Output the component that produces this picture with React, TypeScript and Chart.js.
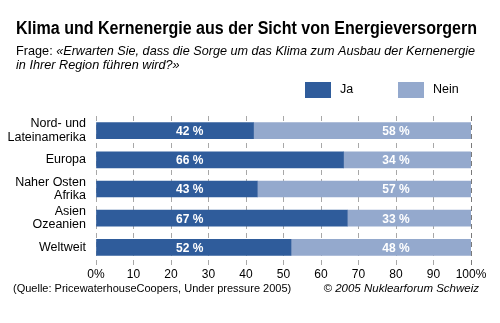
import React, { useEffect, useRef } from "react";
import { Chart, registerables } from "chart.js";

Chart.register(...registerables);

const categories: string[][] = [
  ["Nord- und", "Lateinamerika"],
  ["Europa"],
  ["Naher Osten", "Afrika"],
  ["Asien", "Ozeanien"],
  ["Weltweit"],
];
const jaValues = [42, 66, 43, 67, 52];
const neinValues = [58, 34, 57, 33, 48];
const seriesNames = ["Ja", "Nein"];
const tickLabels = ["0%", "10", "20", "30", "40", "50", "60", "70", "80", "90", "100%"];

const title = "Klima und Kernenergie aus der Sicht von Energieversorgern";
const subtitlePrefix = "Frage: ";
const subtitleLine1 = "«Erwarten Sie, dass die Sorge um das Klima zum Ausbau der Kernenergie";
const subtitleLine2 = "in Ihrer Region führen wird?»";
const sourceNote = "(Quelle: PricewaterhouseCoopers, Under pressure 2005)";
const copyright = "© 2005 Nuklearforum Schweiz";

const JA_COLOR = "#2f5c9b";
const NEIN_COLOR = "#94a9cd";
const FONT = "'Liberation Sans', Arial, sans-serif";

export default function App() {
  const ref = useRef<HTMLCanvasElement | null>(null);

  useEffect(() => {
    if (!ref.current) return;
    const decor = {
      id: "decor",
      afterDraw(chart: any) {
        const ctx = chart.ctx as CanvasRenderingContext2D;
        ctx.save();
        ctx.fillStyle = "#000";
        ctx.textBaseline = "alphabetic";
        ctx.textAlign = "left";
        // title
        ctx.font = `bold 18px ${FONT}`;
        ctx.fillText(title, 16, 34, 461);
        // subtitle
        ctx.font = `12.7px ${FONT}`;
        ctx.fillText(subtitlePrefix, 16, 55);
        const pw = ctx.measureText(subtitlePrefix).width;
        ctx.font = `italic 12.7px ${FONT}`;
        ctx.fillText(subtitleLine1, 16 + pw, 55, 475 - 16 - pw);
        ctx.fillText(subtitleLine2, 16, 69);
        // legend
        ctx.fillStyle = JA_COLOR;
        ctx.fillRect(305, 82, 26, 16);
        ctx.fillStyle = NEIN_COLOR;
        ctx.fillRect(398, 82, 26, 16);
        ctx.fillStyle = "#000";
        ctx.font = `12.5px ${FONT}`;
        ctx.textBaseline = "middle";
        ctx.fillText(seriesNames[0], 340, 90);
        ctx.fillText(seriesNames[1], 433, 90);
        // footer
        ctx.textBaseline = "alphabetic";
        ctx.font = `11px ${FONT}`;
        ctx.fillText(sourceNote, 13, 292);
        ctx.font = `italic 11.5px ${FONT}`;
        ctx.textAlign = "right";
        ctx.fillText(copyright, 479, 292);
        // value labels
        const xs = chart.scales.x;
        const ys = chart.scales.y;
        ctx.fillStyle = "#fff";
        ctx.font = `bold 12px ${FONT}`;
        ctx.textAlign = "center";
        ctx.textBaseline = "middle";
        jaValues.forEach((v, i) => {
          const y = ys.getPixelForValue(i) + 1;
          ctx.fillText(`${v} %`, xs.getPixelForValue(25), y);
          ctx.fillText(`${neinValues[i]} %`, xs.getPixelForValue(80), y);
        });
        ctx.restore();
      },
    };

    const chart = new Chart(ref.current, {
      type: "bar",
      data: {
        labels: categories,
        datasets: [
          { label: seriesNames[0], data: jaValues, backgroundColor: JA_COLOR, borderWidth: 0, barThickness: 16 },
          { label: seriesNames[1], data: neinValues, backgroundColor: NEIN_COLOR, borderWidth: 0, barThickness: 16 },
        ],
      },
      options: {
        indexAxis: "y",
        animation: false,
        responsive: false,
        layout: { padding: { left: 0, right: 29, top: 116, bottom: 0 } },
        plugins: { legend: { display: false }, tooltip: { enabled: false }, title: { display: false } },
        scales: {
          x: {
            stacked: true,
            min: 0,
            max: 100,
            afterFit: (s: any) => { s.height = 61; },
            border: { display: false, dash: [5, 4] },
            grid: {
              drawTicks: true,
              tickLength: 3,
              color: (c: any) => (c.tick && c.tick.value === 100 ? "#7a7a7a" : "#a8a8a8"),
              lineWidth: 1,
            },
            ticks: {
              stepSize: 10,
              padding: 2,
              color: "#000",
              font: { family: FONT, size: 12 },
              maxRotation: 0,
              autoSkip: false,
              callback: (_v: any, i: number) => tickLabels[i],
            },
          },
          y: {
            stacked: true,
            afterFit: (s: any) => { s.width = 96; },
            border: { display: false },
            grid: { display: false, drawTicks: false },
            ticks: {
              color: "#000",
              padding: 10,
              autoSkip: false,
              font: { family: FONT, size: 12.5, lineHeight: 1.05 },
            },
          },
        },
      },
      plugins: [decor],
    });
    return () => chart.destroy();
  }, []);

  return (
    <div style={{ position: "fixed", left: 0, top: 0, width: 500, height: 323, background: "#fff" }}>
      <canvas ref={ref} width={500} height={323} style={{ width: 500, height: 323 }} />
    </div>
  );
}
